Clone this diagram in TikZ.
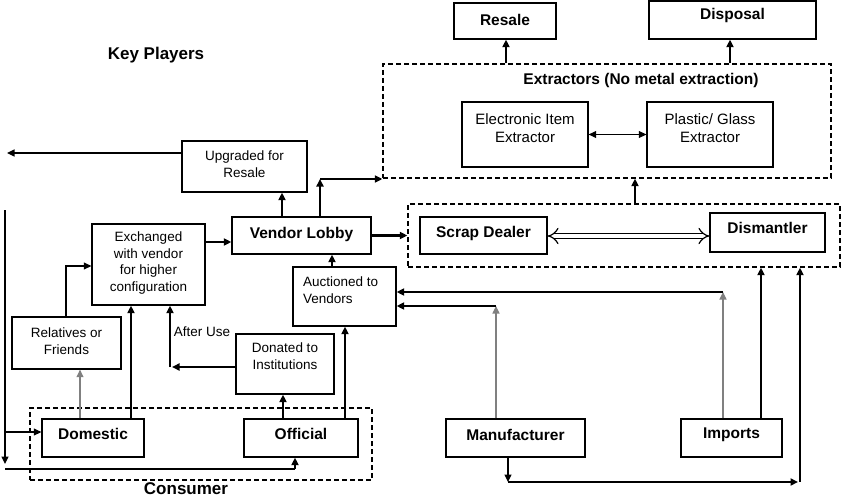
\documentclass[tikz,border=0pt]{standalone}
\usepackage{fontspec}
\setmainfont{Liberation Sans}
\usetikzlibrary{arrows.meta,calc}
\begin{document}
\begin{tikzpicture}[x=1pt,y=-1pt,
  box/.style={draw,line width=1.3pt,inner sep=0pt},
  dbox/.style={draw,line width=1.3pt,dash pattern=on 5pt off 3pt,inner sep=0pt},
  txt/.style={inner sep=0pt,align=center,font=\fontsize{13.5}{16.7}\selectfont},
  etxt/.style={inner sep=0pt,align=center,font=\fontsize{15}{18}\selectfont},
  btxt/.style={inner sep=0pt,font=\bfseries\fontsize{15.5}{18}\selectfont},
  ltxt/.style={inner sep=0pt,font=\bfseries\fontsize{17}{20}\selectfont},
  tip/.style={-{Triangle[length=7.5pt,width=7pt]}},
  thn/.style={tip,line width=1.2pt},
  thk/.style={tip,line width=2.2pt},
  gry/.style={tip,line width=1.2pt,draw=black!50,fill=black},
  ]
\useasboundingbox (0,0) rectangle (850,497);

% ---------- boxes ----------
\node[box,minimum width=102pt,minimum height=36pt] (res) at (505,21) {};
\node[btxt] (resT) at (505,20) {Resale};
\node[box,minimum width=167pt,minimum height=38pt] (dis) at (732.5,20) {};
\node[btxt] (disT) at (732.5,15) {Disposal};

\node[dbox,minimum width=448pt,minimum height=114pt] (ext) at (607,121) {};
\node[btxt] (extT) at (641,80) {Extractors (No metal extraction)};
\node[box,minimum width=126pt,minimum height=65pt] (ele) at (525,134.5) {};
\node[etxt] (eleT) at (525,128) {Electronic Item\\Extractor};
\node[box,minimum width=126pt,minimum height=65pt] (pla) at (710,134.5) {};
\node[etxt] (plaT) at (710,128) {Plastic/ Glass\\Extractor};

\node[dbox,minimum width=432pt,minimum height=63pt] (scr) at (624,235.5) {};
\node[box,minimum width=127pt,minimum height=37pt] (sd) at (483.5,235.5) {};
\node[btxt] (sdT) at (483.5,233) {Scrap Dealer};
\node[box,minimum width=115pt,minimum height=39pt] (dm) at (767.5,232.5) {};
\node[btxt] (dmT) at (767.5,228) {Dismantler};

\node[ltxt] (key) at (156,55) {Key Players};

\node[box,minimum width=125pt,minimum height=51pt] (upg) at (244.5,166.5) {};
\node[txt] (upgT) at (244.5,164) {Upgraded for\\Resale};
\node[box,minimum width=139pt,minimum height=37pt] (ven) at (301.5,235.5) {};
\node[btxt] (venT) at (301.5,234) {Vendor Lobby};
\node[box,minimum width=113pt,minimum height=81pt] (exc) at (148.5,264.5) {};
\node[txt] (excT) at (148.5,263) {Exchanged\\with vendor\\for higher\\configuration};
\node[box,minimum width=103pt,minimum height=59pt] (auc) at (344.5,296.5) {};
\node[txt,align=left,anchor=west] (aucT) at (303,290) {Auctioned to\\Vendors};
\node[box,minimum width=109pt,minimum height=52pt] (rel) at (66.5,343) {};
\node[txt] (relT) at (66.5,341) {Relatives or\\Friends};
\node[box,minimum width=98pt,minimum height=60pt] (don) at (285,364) {};
\node[txt] (donT) at (285,356) {Donated to\\Institutions};
\node[txt] (after) at (202,332) {After Use};

\node[dbox,minimum width=342pt,minimum height=72pt] (con) at (201,444) {};
\node[ltxt] (conT) at (186,488.5) {Consumer};
\node[box,minimum width=102pt,minimum height=38pt] (dom) at (93,438) {};
\node[btxt] (domT) at (93,434) {Domestic};
\node[box,minimum width=114pt,minimum height=38pt] (off) at (301,438) {};
\node[btxt] (offT) at (301,434) {Official};
\node[box,minimum width=139pt,minimum height=38pt] (man) at (515.5,438) {};
\node[btxt] (manT) at (515.5,435) {Manufacturer};
\node[box,minimum width=101pt,minimum height=38pt] (imp) at (731.5,438) {};
\node[btxt] (impT) at (731.5,435) {Imports};

% ---------- coordinates ----------
\coordinate (pL) at (7,153);
\coordinate (pLa) at (5,210);
\coordinate (pLb) at (5,464);
\coordinate (pLc) at (5,432);
\coordinate (pB1) at (5,469);
\coordinate (pB2) at (295,469);
\coordinate (xa) at (80,0);
\coordinate (xb) at (66,266);
\coordinate (xc) at (131,0);
\coordinate (xd) at (172,367);
\coordinate (xe) at (170,367);
\coordinate (xf) at (283,0);
\coordinate (xg) at (345,0);
\coordinate (xh) at (332,0);
\coordinate (yi) at (0,242);
\coordinate (xj) at (282,0);
\coordinate (xk) at (320,179);
\coordinate (xm) at (635,0);
\coordinate (xn) at (506,0);
\coordinate (xo) at (730,0);
\coordinate (yq) at (0,236);
\coordinate (xr) at (496,306);
\coordinate (xs) at (723,292);
\coordinate (xt) at (761,0);
\coordinate (xu) at (508,482);
\coordinate (xv) at (798,482);
\coordinate (xw) at (800,482);

% ---------- connectors ----------
\draw[thn] (upg.west |- pL) -- (pL);
\draw[thn] (pLa) -- (pLb);
\draw[thn] (pLc) -- (pLc -| dom.west);
\draw[line width=2.2pt] (pB1) -- (pB2);
\draw[thk] (pB2) -- (pB2 |- off.south);

\draw[gry] (dom.north -| xa) -- (rel.south -| xa);
\draw[thn] (rel.north -| xb) -- (xb) -- (xb -| exc.west);
\draw[thk] (dom.north -| xc) -- (exc.south -| xc);
\draw[thk] (don.west |- xd) -- (xd);
\draw[thk] (xe) -- (exc.south -| xe);
\draw[thk] (off.north -| xf) -- (don.south -| xf);
\draw[thk] (off.north -| xg) -- (auc.south -| xg);
\draw[thk] (auc.north -| xh) -- (ven.south -| xh);
\draw[thk] (exc.east |- yi) -- (ven.west |- yi);
\draw[thk] (ven.north -| xj) -- (upg.south -| xj);
\draw[thk] (ven.north -| xk) -- (xk);
\draw[tip,line width=1.6pt] (xk) -- (xk -| ext.west);
\draw[thk] (ven.east) -- (scr.west);

\draw[thk] (scr.north -| xm) -- (ext.south -| xm);
\draw[thk] (ext.north -| xn) -- (res.south -| xn);
\draw[thk] (ext.north -| xo) -- (dis.south -| xo);
\draw[line width=1.2pt,{Triangle[length=7.5pt,width=7pt]}-{Triangle[length=7.5pt,width=7pt]}] (ele.east) -- (pla.west);
\draw[line width=1.2pt,double distance=4.5pt,{Implies[scale=1.6]}-{Implies[scale=1.6]}] (sd.east |- yq) -- (dm.west |- yq);

\draw[gry] (man.north -| xr) -- (xr);
\draw[thk] (xr) -- (xr -| auc.east);
\draw[gry] (imp.north -| xs) -- (xs);
\draw[thk] (xs) -- (xs -| auc.east);
\draw[thk] (imp.north -| xt) -- (scr.south -| xt);
\draw[thn] (man.south -| xu) -- (xu);
\draw[thk] (xu) -- (xv);
\draw[thk] (xw) -- (scr.south -| xw);
\end{tikzpicture}
\end{document}
